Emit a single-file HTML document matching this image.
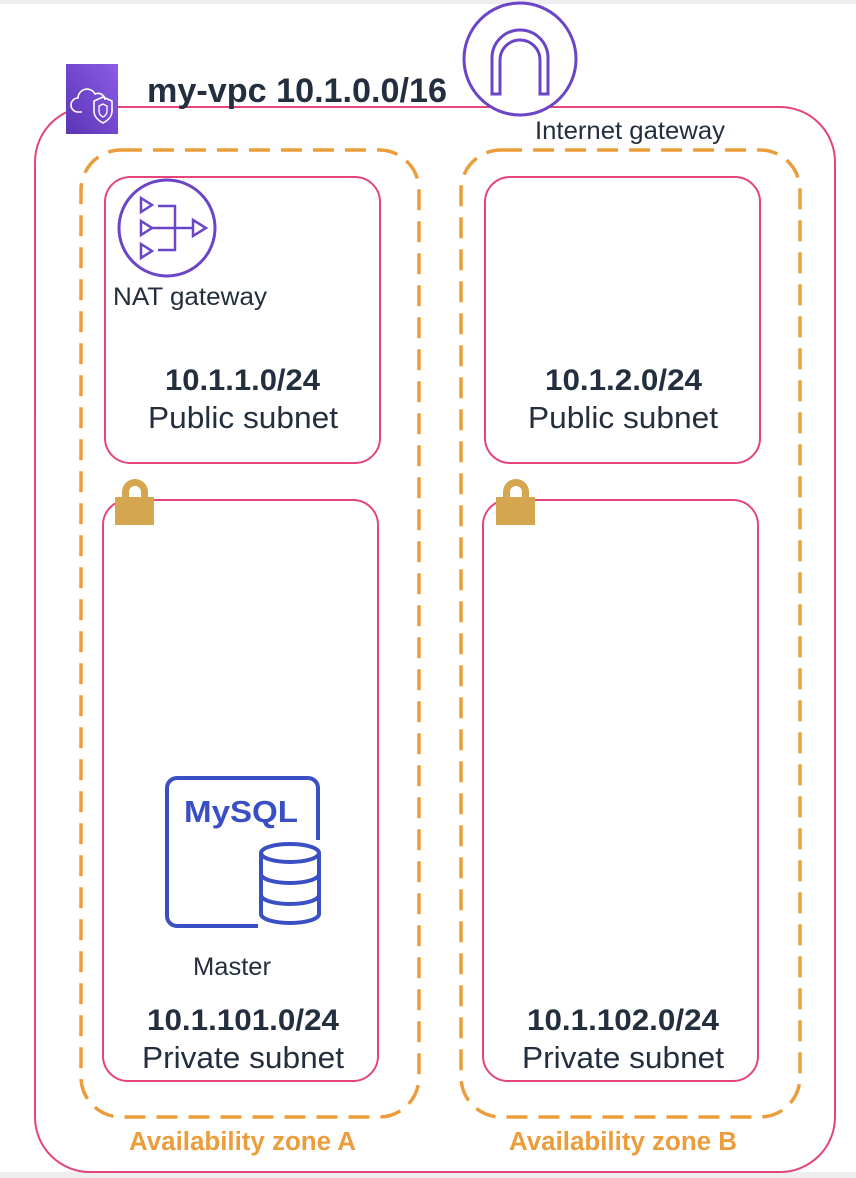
<!DOCTYPE html>
<html><head><meta charset="utf-8"><style>
html,body{margin:0;padding:0;background:#fff;width:856px;height:1178px;overflow:hidden}
svg{display:block}
text{font-family:"Liberation Sans",sans-serif}
</style></head><body>
<svg width="856" height="1178" viewBox="0 0 856 1178" xmlns="http://www.w3.org/2000/svg">
<rect x="0" y="0" width="856" height="4" fill="#eeeeee"/>
<rect x="0" y="1172" width="856" height="6" fill="#eeeeee"/>
<!-- VPC -->
<rect x="35" y="107" width="800" height="1065" rx="55" fill="none" stroke="#e3457a" stroke-width="2"/>
<defs><linearGradient id="g" x1="1" y1="0" x2="0" y2="1"><stop offset="0" stop-color="#8c5ce6"/><stop offset="1" stop-color="#5a35b5"/></linearGradient></defs>
<rect x="66" y="64" width="52" height="70" fill="url(#g)"/>
<path d="M82 112 h-4 a6 6 0 0 1 0-14 a9 9 0 0 1 17-4 a7 7 0 0 1 10 6" fill="none" stroke="#fff" stroke-width="1.6"/>
<path d="M112 101 l-9 -4 l-9 4 v10 c0 6 5 10 9 12 c4 -2 9 -6 9 -12z" fill="none" stroke="#fff" stroke-width="1.6"/>
<path d="M103 104 l-4 2 v5 c0 3 2 5 4 6 c2-1 4-3 4-6 v-5z" fill="none" stroke="#fff" stroke-width="1.3"/>
<text x="147" y="102" font-size="34" font-weight="bold" fill="#232f3e" textLength="300" lengthAdjust="spacingAndGlyphs">my-vpc 10.1.0.0/16</text>
<!-- IGW -->
<ellipse cx="520" cy="59" rx="56" ry="56" fill="#fff" stroke="#6b45c8" stroke-width="3"/>
<path d="M492 94 V58 a28 28 0 0 1 56 0 V94 h-8 V60 a20 20 0 0 0 -40 0 V94z" fill="none" stroke="#6b45c8" stroke-width="3"/>
<text x="535" y="139" font-size="25" fill="#232f3e" textLength="190" lengthAdjust="spacingAndGlyphs">Internet gateway</text>
<!-- AZ -->
<rect x="81" y="150" width="338" height="967" rx="40" fill="none" stroke="#eb9d3c" stroke-width="3.5" stroke-dasharray="21 11"/>
<rect x="461" y="150" width="339" height="967" rx="40" fill="none" stroke="#eb9d3c" stroke-width="3.5" stroke-dasharray="21 11"/>
<text x="129" y="1150" font-size="25.5" font-weight="bold" fill="#eb9d3c" textLength="227" lengthAdjust="spacingAndGlyphs">Availability zone A</text>
<text x="509" y="1150" font-size="25.5" font-weight="bold" fill="#eb9d3c" textLength="228" lengthAdjust="spacingAndGlyphs">Availability zone B</text>
<!-- subnets -->
<g fill="none" stroke="#e3457a" stroke-width="2">
<rect x="105" y="177" width="275" height="286" rx="25"/>
<rect x="485" y="177" width="275" height="286" rx="25"/>
<rect x="103" y="500" width="275" height="581" rx="25"/>
<rect x="483" y="500" width="275" height="581" rx="25"/>
</g>
<!-- NAT -->
<ellipse cx="167" cy="228" rx="48" ry="48" fill="#fff" stroke="#6b45c8" stroke-width="3"/>
<g fill="none" stroke="#6b45c8" stroke-width="2.5">
<path d="M141 198 l11 7 l-11 7z M141 221 l11 7 l-11 7z M141 244 l11 7 l-11 7z"/>
<path d="M158 206 h17 v44 h-17 M152 228 h41"/>
<path d="M193 220 l13 8 l-13 8z"/>
</g>
<text x="113" y="305" font-size="25" fill="#232f3e" textLength="154" lengthAdjust="spacingAndGlyphs">NAT gateway</text>
<text x="165" y="390" font-size="30" font-weight="bold" fill="#232f3e" textLength="155" lengthAdjust="spacingAndGlyphs">10.1.1.0/24</text>
<text x="148" y="428" font-size="31" fill="#232f3e" textLength="190" lengthAdjust="spacingAndGlyphs">Public subnet</text>
<text x="545" y="390" font-size="30" font-weight="bold" fill="#232f3e" textLength="157" lengthAdjust="spacingAndGlyphs">10.1.2.0/24</text>
<text x="528" y="428" font-size="31" fill="#232f3e" textLength="190" lengthAdjust="spacingAndGlyphs">Public subnet</text>
<!-- locks -->
<g fill="#d4a64f">
<path d="M122 500 v-8 a13 13 0 0 1 26 0 v8 h-7 v-8 a6 6 0 0 0 -12 0 v8z"/>
<rect x="115" y="497" width="39" height="28"/>
<path d="M503 500 v-8 a13 13 0 0 1 26 0 v8 h-7 v-8 a6 6 0 0 0 -12 0 v8z"/>
<rect x="496" y="497" width="39" height="28"/>
</g>
<!-- MySQL -->
<path d="M258 926 H177 a10 10 0 0 1 -10 -10 V788 a10 10 0 0 1 10 -10 H308 a10 10 0 0 1 10 10 V840" fill="none" stroke="#3b4fc4" stroke-width="4"/>
<text x="184" y="822" font-size="31" font-weight="bold" fill="#3b4fc4" textLength="114" lengthAdjust="spacingAndGlyphs">MySQL</text>
<g fill="#fff" stroke="#3b4fc4" stroke-width="4">
<path d="M261 853 V914 a29 9 0 0 0 58 0 V853"/>
<ellipse cx="290" cy="853" rx="29" ry="9"/>
<path d="M261 874 a29 9 0 0 0 58 0 M261 895 a29 9 0 0 0 58 0" fill="none"/>
</g>
<text x="193" y="975" font-size="25" fill="#232f3e" textLength="78" lengthAdjust="spacingAndGlyphs">Master</text>
<text x="147" y="1030" font-size="30" font-weight="bold" fill="#232f3e" textLength="192" lengthAdjust="spacingAndGlyphs">10.1.101.0/24</text>
<text x="142" y="1068" font-size="31" fill="#232f3e" textLength="202" lengthAdjust="spacingAndGlyphs">Private subnet</text>
<text x="527" y="1030" font-size="30" font-weight="bold" fill="#232f3e" textLength="192" lengthAdjust="spacingAndGlyphs">10.1.102.0/24</text>
<text x="522" y="1068" font-size="31" fill="#232f3e" textLength="202" lengthAdjust="spacingAndGlyphs">Private subnet</text>
</svg>
</body></html>
